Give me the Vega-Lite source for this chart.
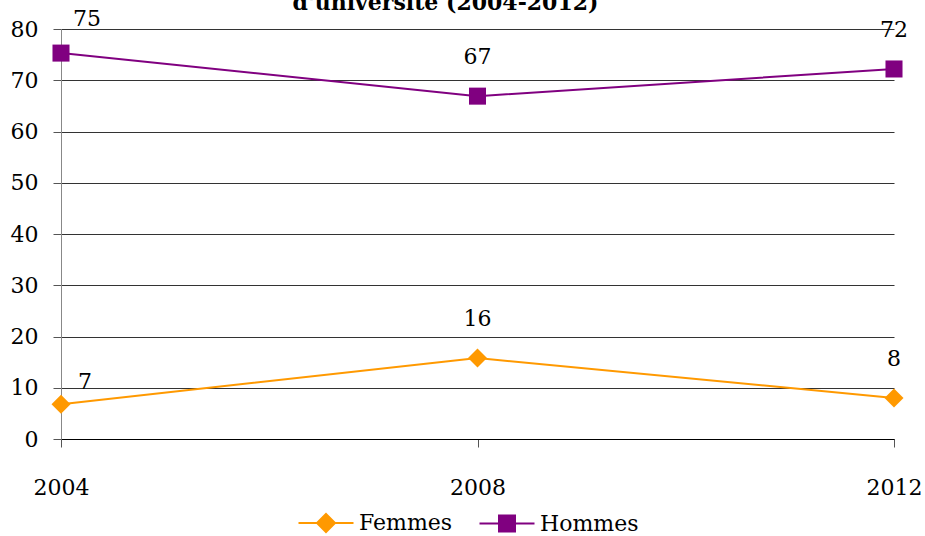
{
  "$schema": "https://vega.github.io/schema/vega-lite/v6.json",
  "width": 833,
  "height": 410,
  "autosize": {"type": "none"},
  "padding": {"left": 61, "top": 29, "right": 31, "bottom": 97},
  "background": "white",
  "title": {
    "text": "d'université (2004-2012)",
    "font": "DejaVu Serif",
    "fontSize": 22,
    "fontWeight": "bold",
    "color": "black",
    "anchor": "middle",
    "baseline": "bottom",
    "offset": 0,
    "dy": 29,
    "dx": -32
  },
  "config": {
    "view": {"stroke": null},
    "font": "DejaVu Serif"
  },
  "data": {
    "values": [
      {"year": 2004, "serie": "Femmes", "value": 6.8},
      {"year": 2008, "serie": "Femmes", "value": 15.8},
      {"year": 2012, "serie": "Femmes", "value": 8.0},
      {"year": 2004, "serie": "Hommes", "value": 75.3},
      {"year": 2008, "serie": "Hommes", "value": 66.9},
      {"year": 2012, "serie": "Hommes", "value": 72.2}
    ]
  },
  "encoding": {
    "x": {
      "field": "year",
      "type": "quantitative",
      "scale": {"domain": [2004, 2012], "nice": false, "zero": false},
      "axis": {
        "title": null,
        "values": [2004, 2008, 2012],
        "format": "d",
        "grid": false,
        "domainColor": "#000000",
        "tickColor": "#555555",
        "tickSize": 8,
        "labelPadding": 30,
        "labelFont": "DejaVu Serif",
        "labelFontSize": 22,
        "labelColor": "black",
        "labelFlush": false
      }
    },
    "y": {
      "field": "value",
      "type": "quantitative",
      "scale": {"domain": [0, 80], "nice": false},
      "axis": {
        "title": null,
        "values": [0, 10, 20, 30, 40, 50, 60, 70, 80],
        "grid": true,
        "gridColor": "#333333",
        "gridWidth": 1,
        "domainColor": "#888888",
        "tickColor": "#555555",
        "tickSize": 8,
        "labelPadding": 15,
        "labelFont": "DejaVu Serif",
        "labelFontSize": 22,
        "labelColor": "black"
      }
    }
  },
  "layer": [
    {
      "mark": {"type": "line", "strokeWidth": 2},
      "encoding": {
        "color": {
          "field": "serie",
          "type": "nominal",
          "scale": {"domain": ["Femmes", "Hommes"], "range": ["#FF9900", "#800080"]},
          "legend": {
            "title": null,
            "orient": "none",
            "legendX": 254,
            "legendY": 483,
            "direction": "horizontal",
            "columns": 2,
            "columnPadding": 22,
            "symbolSize": 400,
            "symbolStrokeWidth": 2,
            "labelOffset": 22,
            "labelFont": "DejaVu Serif",
            "labelFontSize": 22,
            "labelColor": "black",
            "encode": {
              "symbols": {
                "update": {
                  "shape": {"signal": "datum.value === 'Femmes' ? 'M-2.75,0H2.75M0,-0.9L0.9,0L0,0.9L-0.9,0Z' : 'M-2.75,0H2.75M-0.8,-0.8H0.8V0.8H-0.8Z'"},
                  "fill": {"signal": "datum.value === 'Femmes' ? '#FF9900' : '#800080'"},
                  "stroke": {"signal": "datum.value === 'Femmes' ? '#FF9900' : '#800080'"},
                  "strokeWidth": {"value": 2},
                  "strokeOpacity": {"value": 1},
                  "fillOpacity": {"value": 1},
                  "opacity": {"value": 1}
                }
              }
            }
          }
        }
      }
    },
    {
      "transform": [{"filter": "datum.serie == 'Femmes'"}],
      "mark": {"type": "point", "filled": true, "opacity": 1, "size": 360, "shape": "diamond", "color": "#FF9900"}
    },
    {
      "transform": [{"filter": "datum.serie == 'Hommes'"}],
      "mark": {"type": "point", "filled": true, "opacity": 1, "size": 290, "shape": "square", "color": "#800080"}
    },
    {
      "transform": [{"filter": "datum.year != 2004"}],
      "mark": {"type": "text", "fontSize": 22, "font": "DejaVu Serif", "dy": -39, "align": "center", "baseline": "middle", "color": "black"},
      "encoding": {
        "text": {"field": "value", "type": "quantitative", "format": ".0f"}
      }
    },
    {
      "transform": [{"filter": "datum.year == 2004 && datum.serie == 'Hommes'"}],
      "mark": {"type": "text", "fontSize": 22, "font": "DejaVu Serif", "dx": 26, "dy": -34, "align": "center", "baseline": "middle", "color": "black"},
      "encoding": {
        "text": {"field": "value", "type": "quantitative", "format": ".0f"}
      }
    },
    {
      "transform": [{"filter": "datum.year == 2004 && datum.serie == 'Femmes'"}],
      "mark": {"type": "text", "fontSize": 22, "font": "DejaVu Serif", "dx": 24, "dy": -22, "align": "center", "baseline": "middle", "color": "black"},
      "encoding": {
        "text": {"field": "value", "type": "quantitative", "format": ".0f"}
      }
    }
  ]
}
